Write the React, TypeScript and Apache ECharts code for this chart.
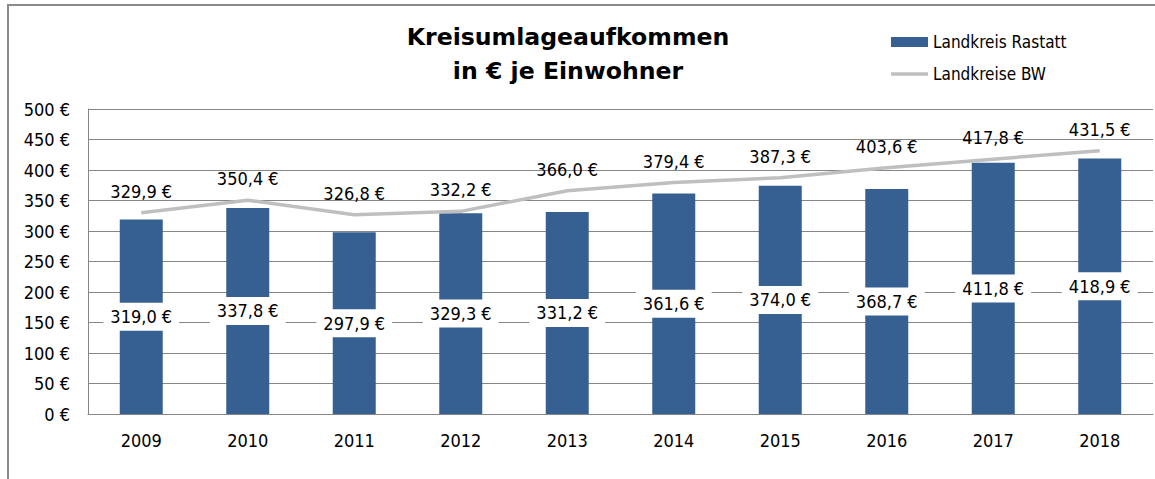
import React, { useEffect, useRef } from "react";
import * as echarts from "echarts";

const years = ["2009", "2010", "2011", "2012", "2013", "2014", "2015", "2016", "2017", "2018"];
const rastatt = [319.0, 337.8, 297.9, 329.3, 331.2, 361.6, 374.0, 368.7, 411.8, 418.9];
const landkreiseBW = [329.9, 350.4, 326.8, 332.2, 366.0, 379.4, 387.3, 403.6, 417.8, 431.5];
const titleLines = ["Kreisumlageaufkommen", "in € je Einwohner"];
const seriesNames = ["Landkreis Rastatt", "Landkreise BW"];

const FONT = "'DejaVu Sans Condensed', 'DejaVu Sans', sans-serif";
const fmt = (v: number) => v.toFixed(1).replace(".", ",") + " €";

export default function App() {
  const ref = useRef<HTMLDivElement>(null);
  useEffect(() => {
    if (!ref.current) return;
    const chart = echarts.init(ref.current, undefined, { renderer: "svg" });
    chart.setOption({
      animation: false,
      backgroundColor: "#ffffff",
      title: {
        text: titleLines.join("\n"),
        left: 563,
        top: 15,
        textAlign: "center",
        textStyle: {
          fontFamily: "'DejaVu Sans', sans-serif",
          fontWeight: "bold",
          fontSize: 23.6,
          lineHeight: 34,
          color: "#000000",
        },
      },
      legend: {
        orient: "vertical",
        left: 886,
        top: 27,
        itemWidth: 37,
        itemHeight: 10,
        itemGap: 12,
        textStyle: { fontFamily: FONT, fontSize: 17, color: "#000", lineHeight: 20 },
        data: [
          { name: seriesNames[0], icon: "rect" },
          { name: seriesNames[1], icon: "path://M0,0L37,0L37,3.5L0,3.5Z" },
        ],
      },
      graphic: [
        {
          type: "rect",
          shape: { x: 8, y: 5, width: 1300, height: 700 },
          style: { fill: "none", stroke: "#8a8a8a", lineWidth: 2 },
          silent: true,
        },
      ],
      grid: { left: 88, right: 2, top: 109, bottom: 65 },
      xAxis: {
        type: "category",
        data: years,
        axisLine: { lineStyle: { color: "#868686", width: 1 } },
        axisTick: { show: false },
        axisLabel: { fontFamily: FONT, fontSize: 18, color: "#000", margin: 17 },
      },
      yAxis: {
        type: "value",
        min: 0,
        max: 500,
        interval: 50,
        axisLine: { show: true, lineStyle: { color: "#868686", width: 1 } },
        axisTick: { show: false },
        splitLine: { lineStyle: { color: "#868686", width: 1 } },
        axisLabel: {
          fontFamily: FONT,
          fontSize: 18,
          color: "#000",
          margin: 18,
          formatter: (v: number) => v + " €",
        },
      },
      series: [
        {
          name: seriesNames[0],
          type: "bar",
          data: rastatt,
          barWidth: 43,
          itemStyle: { color: "#376092" },
          label: {
            show: true,
            position: "inside",
            formatter: (p: any) => fmt(p.value),
            backgroundColor: "#ffffff",
            padding: [5, 7],
            fontFamily: FONT,
            fontSize: 18,
            color: "#000",
          },
          z: 2,
        },
        {
          name: seriesNames[1],
          type: "line",
          data: landkreiseBW,
          symbol: "none",
          lineStyle: { color: "#bfbfbf", width: 3.5 },
          itemStyle: { color: "#bfbfbf" },
          z: 3,
        },
        {
          name: "labels-BW",
          type: "scatter",
          data: landkreiseBW,
          symbolSize: 1,
          itemStyle: { color: "rgba(0,0,0,0)", opacity: 1 },
          silent: true,
          label: {
            show: true,
            position: "top",
            distance: 12,
            formatter: (p: any) => fmt(p.value),
            fontFamily: FONT,
            fontSize: 18,
            color: "#000",
            opacity: 1,
          },
          z: 4,
        },
      ],
    });
    return () => chart.dispose();
  }, []);
  return (
    <div
      ref={ref}
      style={{ position: "fixed", left: 0, top: 0, width: 1155, height: 479 }}
    />
  );
}
